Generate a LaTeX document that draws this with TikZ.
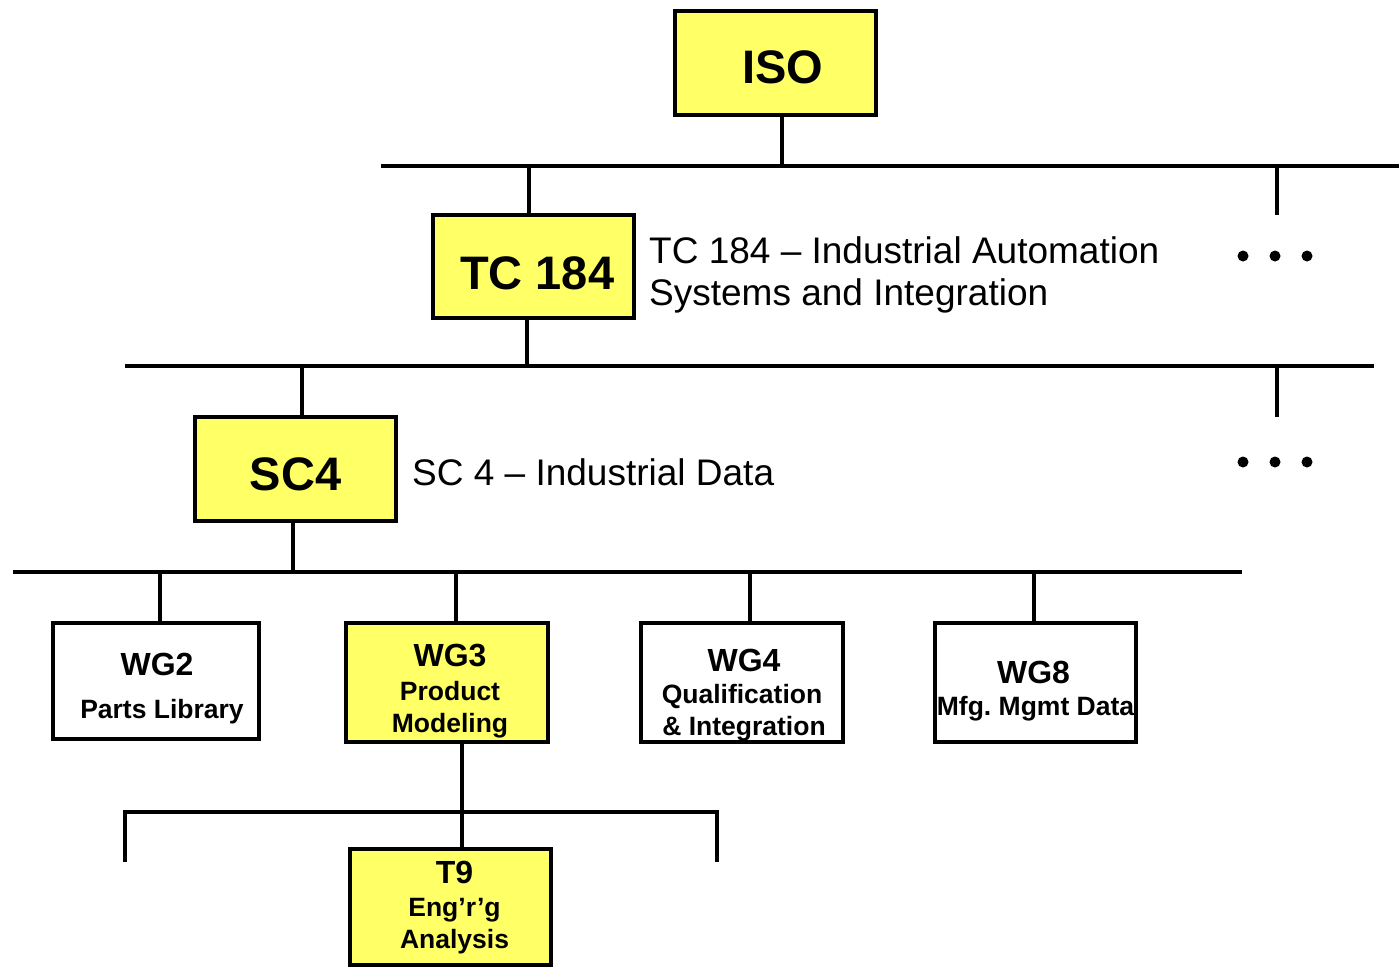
\documentclass[tikz,border=0pt]{standalone}
\usepackage{fontspec}
\setmainfont{Liberation Sans}
\frenchspacing
\definecolor{isoyellow}{RGB}{255,255,102}
\begin{document}
\begin{tikzpicture}[x=1pt,y=-1pt,
  box/.style={draw=black, line width=4.5pt, inner sep=0pt, align=center},
  yel/.style={fill=isoyellow},
  wht/.style={fill=white},
  topbox/.style={box, yel, minimum width=201pt, minimum height=104pt, font=\bfseries\fontsize{47}{50}\selectfont},
  wgbox/.style={box, minimum height=119pt, font=\bfseries\fontsize{26.5}{31.5}\selectfont},
  desc/.style={inner sep=0pt, align=left, font=\fontsize{37}{42.4}\selectfont},
  wire/.style={line width=4.5pt},
  dot/.style={circle, fill=black, inner sep=0pt, minimum size=11pt}
]
\useasboundingbox (0,0) rectangle (1399,967);
\fill[white] (0,0) rectangle (1399,967);

% ---- boxes
\node[topbox] (iso) at (775.5,63) {\rule{0pt}{41.3pt}\hspace*{15pt}ISO};
\node[topbox, minimum height=103pt] (tc) at (533.5,266.5) {\rule{0pt}{46.3pt}\hspace*{7.4pt}TC 184};
\node[topbox] (sc) at (295.5,469) {\rule{0pt}{44.1pt}SC4};

\node[wgbox, wht, minimum width=206pt, minimum height=116pt] (wg2) at (156,681)
  {{\fontsize{32}{34}\selectfont\rule{0pt}{36.9pt}\hspace*{2pt}WG2}\\[11.8pt]\hspace*{12pt}Parts Library};
\node[wgbox, yel, minimum width=202pt] (wg3) at (447,682.5)
  {{\fontsize{32}{34}\selectfont\rule{0pt}{38.9pt}\hspace*{6pt}WG3}\\[3.2pt]\hspace*{6pt}Product\\\hspace*{6pt}Modeling};
\node[wgbox, wht, minimum width=202pt] (wg4) at (742,682.5)
  {{\fontsize{32}{34}\selectfont\rule{0pt}{47.3pt}\hspace*{4pt}WG4}\\[1.1pt]Qualification\\\hspace*{4pt}\& Integration};
\node[wgbox, wht, minimum width=201pt] (wg8) at (1035.5,682.5)
  {{\fontsize{32}{34}\selectfont\rule{0pt}{38.9pt}WG8\hspace*{4pt}}\\[0.2pt]Mfg. Mgmt Data};
\node[wgbox, yel, minimum width=201pt, minimum height=116pt] (t9) at (450.5,907)
  {{\fontsize{32}{34}\selectfont\rule{0pt}{23.2pt}\hspace*{8pt}T9}\\[1.9pt]\hspace*{8pt}Eng’r’g\\\hspace*{8pt}Analysis};

% ---- descriptions
\node[desc, anchor=west] (tcd) at (649,275) {TC 184 – Industrial Automation\\Systems and Integration};
\node[desc, anchor=base west] (scd) at (412,485) {SC 4 – Industrial Data};

% ---- level 1 bus
\coordinate (b1w) at (381,166);
\coordinate (b1e) at (1399,166);
\coordinate (j0) at (782,166);
\coordinate (j1) at (529,166);
\coordinate (k1) at (1277,166);
\coordinate (k1e) at (1277,215);
\draw[wire] (b1w) -- (b1e);
\draw[wire] (iso.south -| j0) -- (j0);
\draw[wire] (j1) -- (tc.north -| j1);
\draw[wire] (k1) -- (k1e);
\node[dot] (d11) at (1243,256) {};
\node[dot] (d12) at (1275,256) {};
\node[dot] (d13) at (1307,256) {};

% ---- level 2 bus
\coordinate (b2w) at (125,366);
\coordinate (b2e) at (1374,366);
\coordinate (j2) at (527,366);
\coordinate (j3) at (302,366);
\coordinate (k2) at (1277,366);
\coordinate (k2e) at (1277,417);
\draw[wire] (b2w) -- (b2e);
\draw[wire] (tc.south -| j2) -- (j2);
\draw[wire] (j3) -- (sc.north -| j3);
\draw[wire] (k2) -- (k2e);
\node[dot] (d21) at (1243,462) {};
\node[dot] (d22) at (1275,462) {};
\node[dot] (d23) at (1307,462) {};

% ---- level 3 bus
\coordinate (b3w) at (13,572);
\coordinate (b3e) at (1242,572);
\coordinate (j4) at (293,572);
\coordinate (w2) at (160,572);
\coordinate (w3) at (456,572);
\coordinate (w4) at (750,572);
\coordinate (w8) at (1034,572);
\draw[wire] (b3w) -- (b3e);
\draw[wire] (sc.south -| j4) -- (j4);
\draw[wire] (w2) -- (wg2.north -| w2);
\draw[wire] (w3) -- (wg3.north -| w3);
\draw[wire] (w4) -- (wg4.north -| w4);
\draw[wire] (w8) -- (wg8.north -| w8);

% ---- level 4 bracket
\coordinate (j5) at (462,812);
\coordinate (bl) at (125,812);
\coordinate (bld) at (125,862);
\coordinate (br) at (717,812);
\coordinate (brd) at (717,862);
\draw[wire] (bld) -- (bl) -- (br) -- (brd);
\draw[wire] (wg3.south -| j5) -- (t9.north -| j5);
\end{tikzpicture}
\end{document}
